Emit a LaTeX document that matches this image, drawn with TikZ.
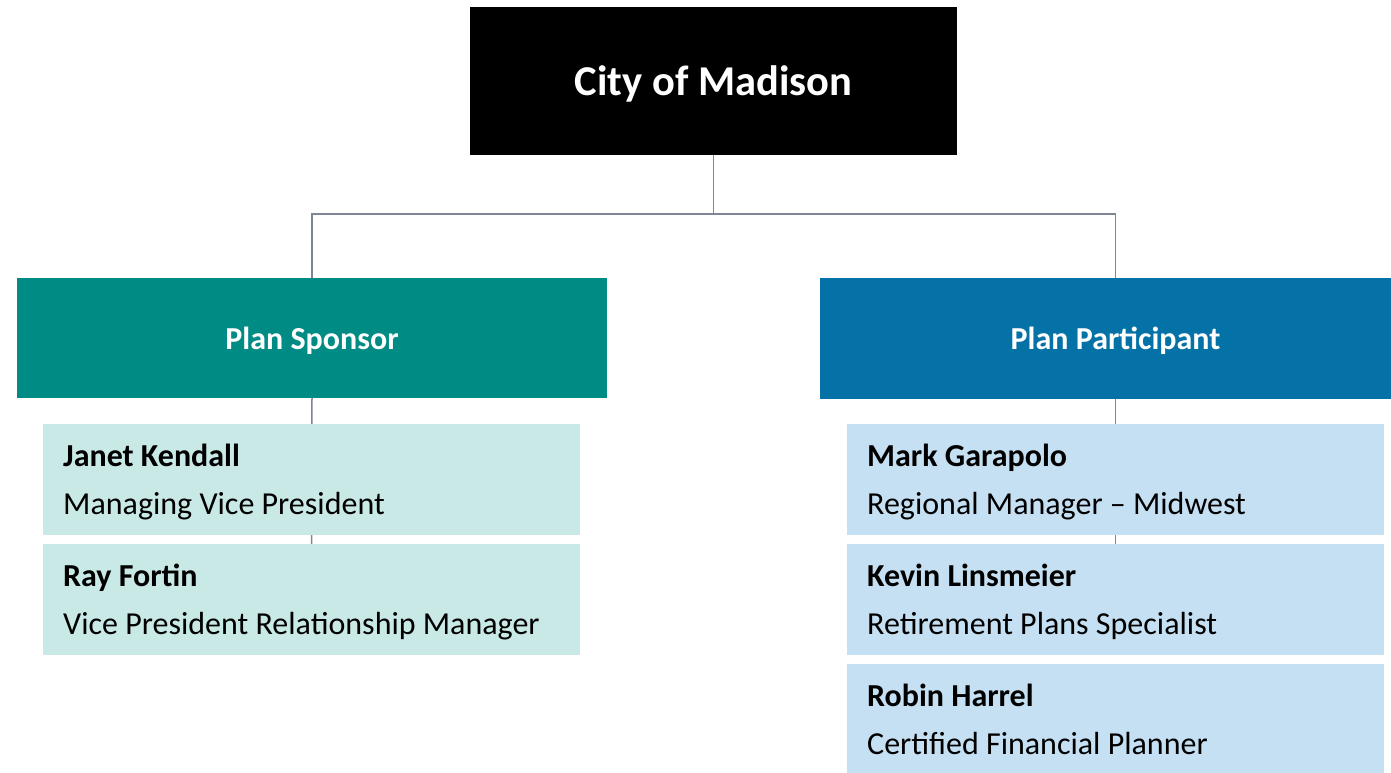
\documentclass[tikz,border=0pt]{standalone}
\usepackage{fontspec}
\setmainfont{Carlito}
\usetikzlibrary{backgrounds}
\definecolor{teal1}{RGB}{0,140,132}
\definecolor{blue1}{RGB}{4,114,166}
\definecolor{lteal}{RGB}{200,233,230}
\definecolor{lblue}{RGB}{197,224,242}
\definecolor{linegray}{RGB}{127,135,150}
\tikzset{
  box/.style={rectangle, inner sep=0pt, outer sep=0pt},
  conn/.style={draw=linegray, line width=1.5pt},
  hdr/.style={font=\fontsize{32}{38}\selectfont\bfseries, text=white},
  nm/.style={anchor=base west, inner sep=0pt, font=\fontsize{32}{38}\selectfont\bfseries},
  rl/.style={anchor=base west, inner sep=0pt, font=\fontsize{32}{38}\selectfont},
}
\begin{document}
\begin{tikzpicture}[x=1pt,y=-1pt]
\clip (0,0) rectangle (1391,773);
\node[box, fill=black, minimum width=487pt, minimum height=148pt] (top) at (713.5,81) {};
\node[text=white, font=\fontsize{42.5}{50}\selectfont\bfseries, inner sep=0pt] (topt) at (713.5,84) {City of Madison};
\node[box, fill=teal1, minimum width=590pt, minimum height=120pt] (ps) at (312,338) {};
\node[hdr, inner sep=0pt] (pst) at (312,341) {Plan Sponsor};
\node[box, fill=blue1, minimum width=591pt, minimum height=121pt] (pp) at (1115.5,338.5) {};
\node[hdr, inner sep=0pt] (ppt) at (1115.5,341) {Plan Participant};
\node[box, fill=lteal, minimum width=537pt, minimum height=111pt] (l1) at (311.5,479.5) {};
\node[box, fill=lteal, minimum width=537pt, minimum height=111pt] (l2) at (311.5,599.5) {};
\node[box, fill=lblue, minimum width=537pt, minimum height=111pt] (r1) at (1115.5,479.5) {};
\node[box, fill=lblue, minimum width=537pt, minimum height=111pt] (r2) at (1115.5,599.5) {};
\node[box, fill=lblue, minimum width=537pt, minimum height=109pt] (r3) at (1115.5,718.5) {};
\node[nm] (l1n) at (63,466) {Janet Kendall};
\node[rl] (l1r) at (63,514) {Managing Vice President};
\node[nm] (l2n) at (63,586) {Ray Fortin};
\node[rl] (l2r) at (63,634) {Vice President Relationship Manager};
\node[nm] (r1n) at (867,466) {Mark Garapolo};
\node[rl] (r1r) at (867,514) {Regional Manager – Midwest};
\node[nm] (r2n) at (867,586) {Kevin Linsmeier};
\node[rl] (r2r) at (867,634) {Retirement Plans Specialist};
\node[nm] (r3n) at (867,706) {Robin Harrel};
\node[rl] (r3r) at (867,754) {Certified Financial Planner};
\coordinate (mid) at (713.5,214);
\begin{scope}[on background layer]
\fill[white] (0,0) rectangle (1391,773);
\draw[conn] (top.south) -- (mid) -| (ps.north);
\draw[conn] (mid) -| (pp.north);
\draw[conn] (ps.south) -- (l2.north);
\draw[conn] (pp.south) -- (r2.north);
\end{scope}
\end{tikzpicture}
\end{document}
